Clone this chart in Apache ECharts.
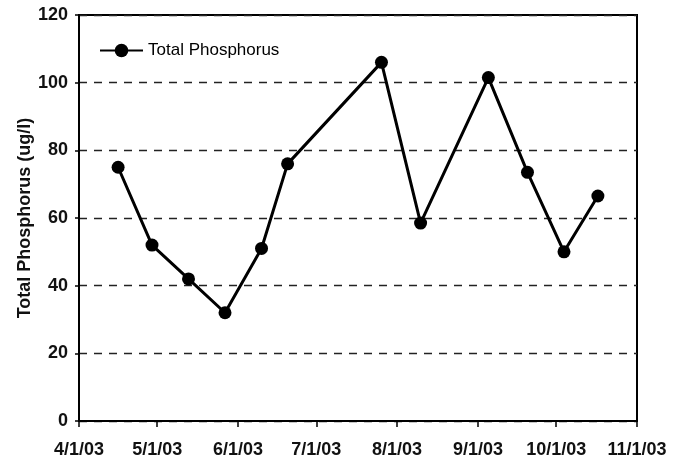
<!DOCTYPE html>
<html>
<head>
<meta charset="utf-8">
<script src="https://cdn.jsdelivr.net/npm/echarts@6/dist/echarts.min.js"></script>
<style>
  html, body { margin: 0; padding: 0; background: #fff; }
  #main { width: 678px; height: 466px; }
</style>
</head>
<body>
<div id="main"></div>
<script>
// sampling dates and total phosphorus (ug/l)
let dates = ['2003-04-16', '2003-04-29', '2003-05-13', '2003-05-27', '2003-06-10', '2003-06-20',
             '2003-07-26', '2003-08-10', '2003-09-05', '2003-09-20', '2003-10-04', '2003-10-17'];
let phosphorus = [75, 52, 42, 32, 51, 76, 106, 58.5, 101.5, 73.5, 50, 66.5];
let seriesName = 'Total Phosphorus';
let yTitle = 'Total Phosphorus (ug/l)';

let chartDom = document.getElementById('main');
let myChart = echarts.init(chartDom);

let points = dates.map((d, i) => [d, phosphorus[i]]);

let font = 'Arial, "Liberation Sans", sans-serif';

let option = {
  backgroundColor: '#fff',
  animation: false,
  grid: {
    left: 79, right: 41, top: 15, bottom: 45,
    show: true,
    borderColor: '#000',
    borderWidth: 2,
    backgroundColor: 'transparent'
  },
  legend: {
    left: 94,
    top: 37,
    itemWidth: 43,
    itemHeight: 17,
    textStyle: { fontFamily: font, fontSize: 17, color: '#000' },
    data: [seriesName]
  },
  xAxis: {
    type: 'time',
    min: '2003-04-01',
    max: '2003-11-01',
    splitNumber: 7,
    axisLine: { lineStyle: { color: '#000', width: 2 } },
    axisTick: { show: true, length: 6, lineStyle: { color: '#000', width: 1.5 } },
    splitLine: { show: false },
    axisLabel: {
      fontFamily: font,
      fontSize: 18,
      fontWeight: 'bold',
      color: '#111',
      margin: 20,
      showMinLabel: true,
      showMaxLabel: true,
      hideOverlap: false,
      formatter: function (v) {
        let d = new Date(v);
        return (d.getMonth() + 1) + '/' + d.getDate() + '/03';
      }
    }
  },
  yAxis: {
    type: 'value',
    min: 0,
    max: 120,
    interval: 20,
    name: yTitle,
    nameLocation: 'middle',
    nameGap: 45,
    nameMoveOverlap: false,
    nameTextStyle: { fontFamily: font, fontSize: 18, fontWeight: 'bold', color: '#111' },
    axisLine: { show: true, lineStyle: { color: '#000', width: 2 } },
    axisTick: { show: true, length: 4, lineStyle: { color: '#000', width: 1.5 } },
    axisLabel: { fontFamily: font, fontSize: 18, fontWeight: 'bold', color: '#111', margin: 11 },
    splitLine: { show: true, lineStyle: { color: '#222', width: 1.3, type: [8, 7] } }
  },
  series: [
    {
      name: seriesName,
      type: 'line',
      data: points,
      symbol: 'circle',
      symbolSize: 13,
      lineStyle: { color: '#000', width: 3 },
      itemStyle: { color: '#000' }
    }
  ]
};

option && myChart.setOption(option);
</script>
</body>
</html>
